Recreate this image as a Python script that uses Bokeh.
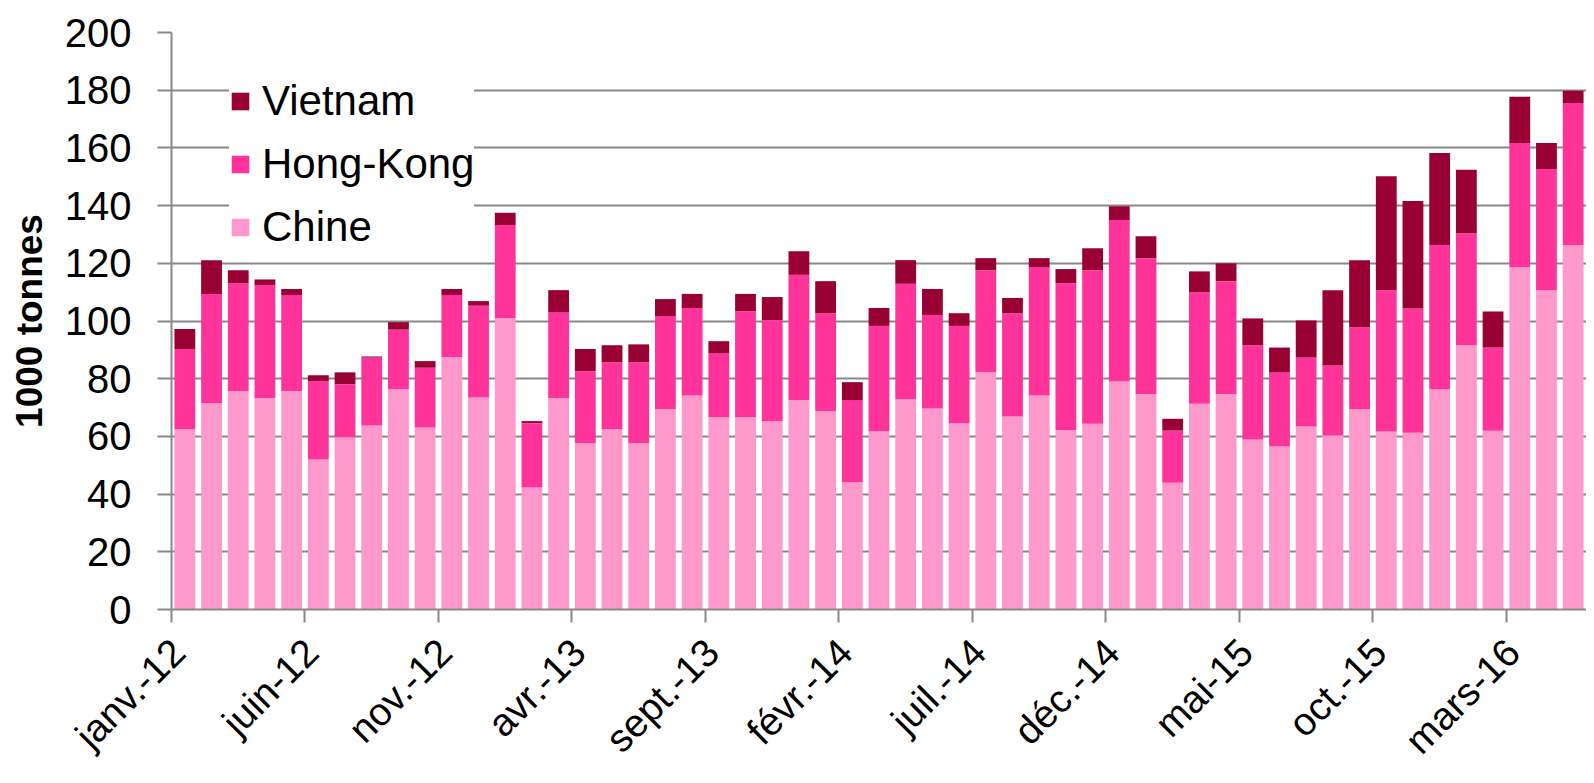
import math
from bokeh.plotting import figure
from bokeh.models import FixedTicker, LinearAxis, Range1d, Legend, LegendItem, ColumnDataSource
from bokeh.embed import file_html
from bokeh.resources import INLINE

# ---- data ----
month_names = ["janv.", "févr.", "mars", "avr.", "mai", "juin",
               "juil.", "août", "sept.", "oct.", "nov.", "déc."]
years = ["12", "13", "14", "15", "16"]
months = [f"{m}-{y}" for y in years for m in month_names][:53]

chine = [62.5, 71.5, 75.7, 73.3, 75.7, 52.0, 59.7, 63.8, 76.4, 63.1, 87.5, 73.5,
         101.0, 42.3, 73.3, 57.6, 62.5, 57.6, 69.5, 74.2, 66.6, 66.6, 65.3, 72.6,
         68.7, 44.1, 61.8, 72.9, 69.7, 64.6, 82.2, 66.9, 74.2, 62.2, 64.4, 79.0,
         74.6, 43.9, 71.3, 74.6, 58.9, 56.5, 63.4, 60.3, 69.4, 61.7, 61.3, 76.3,
         91.6, 62.0, 118.6, 110.7, 126.3]
hong_kong = [27.8, 37.9, 37.4, 39.2, 33.3, 27.1, 18.4, 23.5, 20.6, 20.7, 21.5, 31.8,
             32.3, 22.3, 29.7, 25.0, 23.2, 28.1, 32.2, 30.3, 22.2, 36.8, 35.0, 43.4,
             34.0, 28.5, 36.5, 40.0, 32.4, 33.7, 35.4, 35.8, 44.5, 50.9, 53.2, 56.0,
             47.1, 18.1, 38.6, 39.2, 32.7, 25.6, 23.9, 24.3, 28.4, 49.0, 43.0, 50.0,
             38.8, 28.8, 43.1, 42.0, 49.3]
vietnam = [6.9, 11.7, 4.5, 1.9, 2.1, 2.1, 4.1, 0.4, 2.6, 2.3, 2.1, 1.6,
           4.2, 0.7, 7.7, 7.7, 5.9, 6.2, 5.9, 4.9, 4.2, 6.0, 8.0, 8.2,
           11.1, 6.2, 6.2, 8.2, 9.0, 4.4, 4.2, 5.3, 3.1, 4.9, 7.6, 4.8,
           7.7, 4.1, 7.3, 6.2, 9.3, 8.7, 12.9, 26.1, 23.3, 39.5, 37.3, 31.9,
           22.0, 12.5, 16.0, 9.0, 4.2]

series_labels = ["Chine", "Hong-Kong", "Vietnam"]
series_keys = ["chine", "hk", "vn"]
colors = ["#FF99CC", "#FF3399", "#990033"]
y_ticks = list(range(0, 201, 20))
tick_step = 5

n = len(months)
x = [i + 0.5 for i in range(n)]
src = ColumnDataSource(dict(x=x, chine=chine, hk=hong_kong, vn=vietnam))

FONT = "Liberation Sans"
GRAY = "#888888"

p = figure(width=1586, height=783, x_range=Range1d(0, n), y_range=Range1d(0, 200),
           output_backend="svg", toolbar_location=None,
           min_border_left=171, min_border_top=32, min_border_right=0,
           min_border_bottom=174)
p.outline_line_color = None
p.background_fill_color = "white"

renderers = p.vbar_stack(series_keys, x="x", width=0.78, source=src,
                         color=colors, line_color=None)

# grid
p.xgrid.visible = False
p.ygrid.grid_line_color = GRAY
p.ygrid.grid_line_width = 2
p.ygrid.ticker = FixedTicker(ticks=y_ticks)

# y axis
ya = p.yaxis[0]
ya.ticker = FixedTicker(ticks=y_ticks)
ya.axis_line_color = GRAY
ya.axis_line_width = 2
ya.major_tick_line_color = GRAY
ya.major_tick_line_width = 2
ya.major_tick_out = 14
ya.major_tick_in = 0
ya.minor_tick_line_color = None
ya.major_label_text_font = FONT
ya.major_label_text_font_size = "40px"
ya.major_label_text_color = "black"
ya.major_label_standoff = 26
ya.axis_label = "1000 tonnes"
ya.axis_label_text_font = FONT
ya.axis_label_text_font_size = "37px"
ya.axis_label_text_font_style = "bold"
ya.axis_label_text_color = "black"
ya.axis_label_standoff = 12

# x axis: tick marks at the category boundaries, every 5 months
boundary_ticks = list(range(0, n, tick_step))
xa = p.xaxis[0]
xa.ticker = FixedTicker(ticks=boundary_ticks)
xa.major_label_overrides = {t: "" for t in boundary_ticks}
xa.major_label_text_font_size = "1px"
xa.major_label_standoff = 0
xa.axis_line_color = GRAY
xa.axis_line_width = 2
xa.major_tick_line_color = GRAY
xa.major_tick_line_width = 2
xa.major_tick_out = 13
xa.major_tick_in = 0
xa.minor_tick_line_color = None

# second x axis (below the first): rotated month labels ending just right of each tick
label_ticks = [t + 0.25 for t in boundary_ticks]
la = LinearAxis(ticker=FixedTicker(ticks=label_ticks),
                major_label_overrides={t + 0.25: months[t] for t in boundary_ticks})
la.axis_line_color = None
la.major_tick_line_color = None
la.major_tick_out = 0
la.major_tick_in = 0
la.minor_tick_line_color = None
la.major_label_orientation = math.pi / 4
la.major_label_text_font = FONT
la.major_label_text_font_size = "39px"
la.major_label_text_color = "black"
la.major_label_standoff = 23
p.add_layout(la, "below")

# legend
items = [LegendItem(label=series_labels[i], renderers=[renderers[i]]) for i in (2, 1, 0)]
legend = Legend(items=items, location=(58, 358))
legend.label_text_font = FONT
legend.label_text_font_size = "42px"
legend.label_text_color = "black"
legend.glyph_width = 22
legend.glyph_height = 22
legend.label_height = 22
legend.label_standoff = 11
legend.spacing = 15
legend.padding = 10
legend.border_line_color = None
legend.background_fill_color = "white"
legend.background_fill_alpha = 1.0
p.add_layout(legend, "center")

open("out.html", "w").write(file_html(p, INLINE))
